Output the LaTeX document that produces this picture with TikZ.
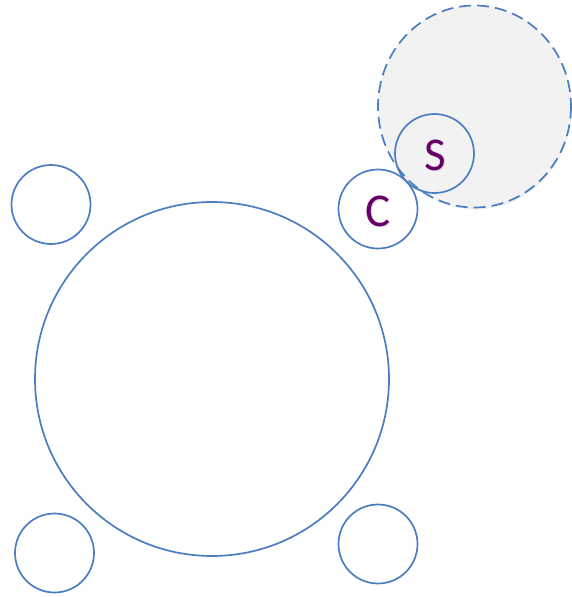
\documentclass[tikz,border=0pt]{standalone}
\usepackage{fontspec}
\setmainfont{Carlito}
\usepackage{xcolor}
\usetikzlibrary{positioning,shadows}

\definecolor{ringblue}{HTML}{4A7EC0}
\definecolor{lettercol}{HTML}{660066}
\definecolor{zonegray}{HTML}{F2F2F2}

\tikzset{
  ring/.style={circle,draw=ringblue,line width=1.7pt,inner sep=0pt,minimum size=#1},
  ring/.default=79pt,
  letter/.style={text=lettercol,font=\fontsize{47}{47}\selectfont}
}

\begin{document}
\begin{tikzpicture}[x=1pt,y=-1pt]
        \useasboundingbox (0,0) rectangle (572,597);
        % shaded zone behind S
        \draw[ringblue,line width=1.7pt,dash pattern=on 12pt off 6pt,fill=zonegray,
              drop shadow={opacity=0.12,shadow xshift=1pt,shadow yshift=-2pt}]
              (474.5,106.5) ellipse [x radius=96.5, y radius=101];
        \node[ring=354pt] (big) at (212,379) {};
        \node[ring] (tl) at (51,204.5) {};
        \node[ring] (bl) at (54.5,553) {};
        \node[ring] (br) at (378,544) {};
        \node[ring] (c) at (378,209) {};
        \node[ring] (s) at (434.5,153.5) {};
        \node[letter,text=black!15] at (379.5,212.5) {C};
        \node[letter] (clabel) at (378.5,211) {C};
        \node[letter,text=black!15] at (436,156.5) {S};
        \node[letter] (slabel) at (435,155) {S};
                \end{tikzpicture}
\end{document}
